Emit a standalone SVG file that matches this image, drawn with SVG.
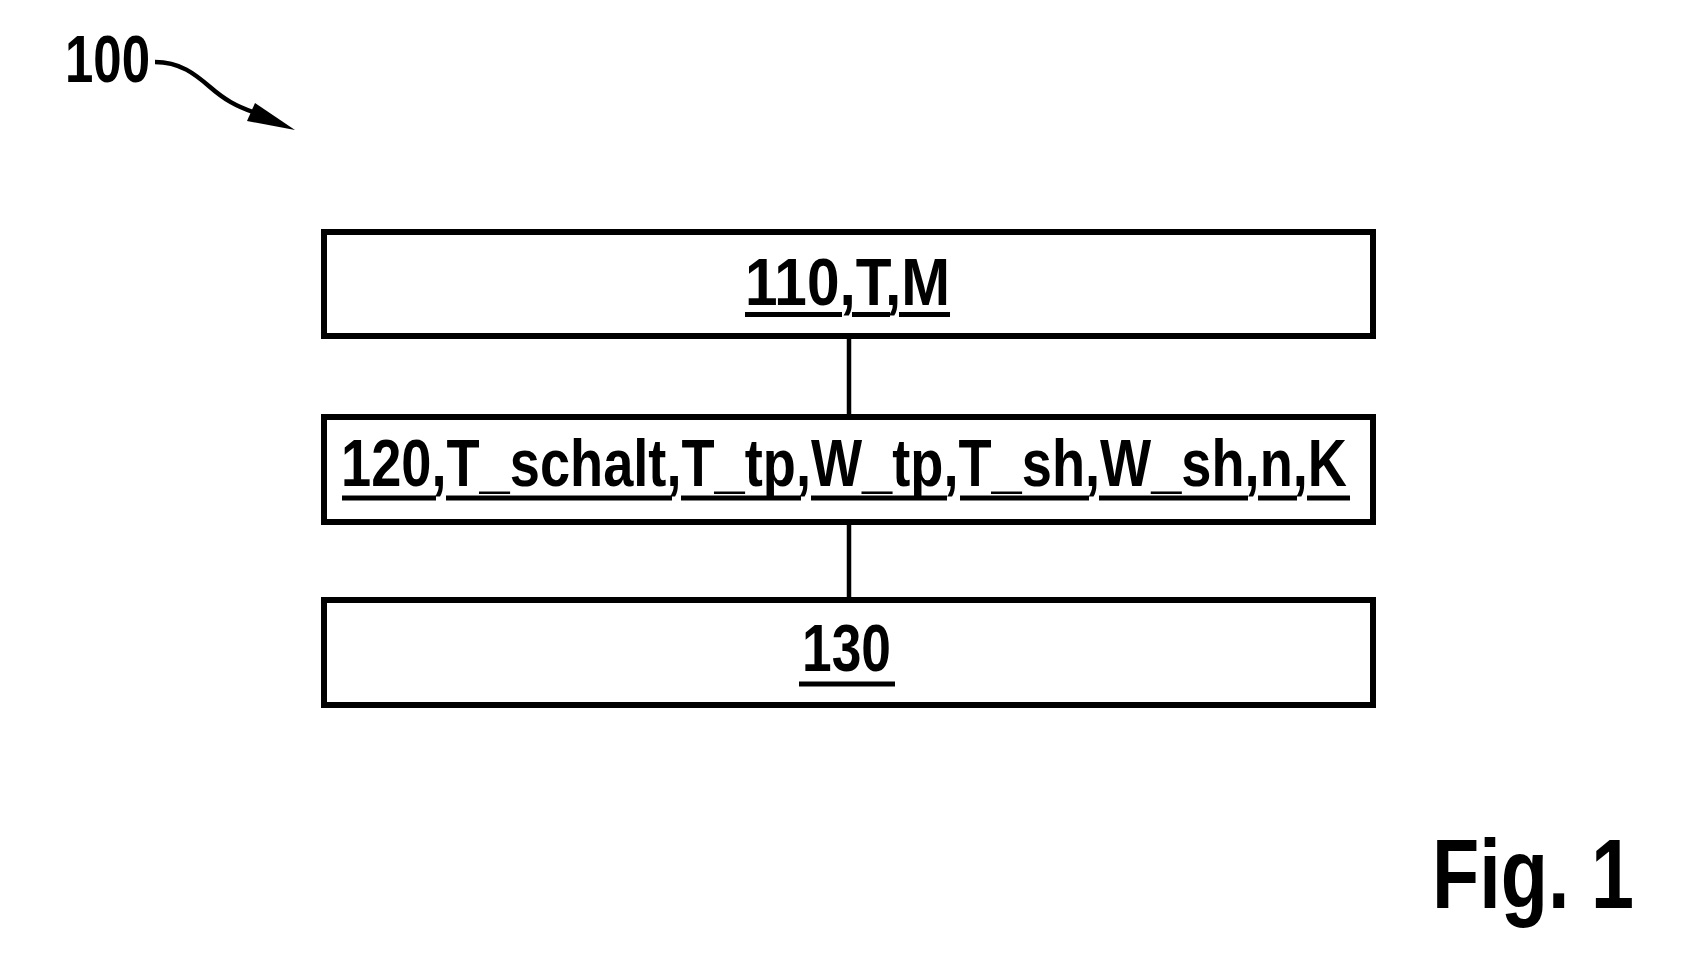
<svg xmlns="http://www.w3.org/2000/svg" width="1702" height="973" viewBox="0 0 1702 973">
<defs>
<style>
.box{fill:#fff;stroke:#000;stroke-width:6}
.lbl{font-family:"Liberation Sans",Arial,sans-serif;font-size:67px;font-weight:bold;fill:#000}
.ul{stroke:#000;stroke-width:5;fill:none}
.conn{stroke:#000;stroke-width:4.5;fill:none}
</style>
</defs>
<rect width="1702" height="973" fill="#fff"/>
<g id="connectors">
<line class="conn" x1="849" y1="339" x2="849" y2="414"/>
<line class="conn" x1="849" y1="525" x2="849" y2="597"/>
</g>
<g id="label100">
<text class="lbl" x="65" y="82" textLength="85" lengthAdjust="spacingAndGlyphs">100</text>
<path d="M155,62 C180,62 195,74 210,87 C225,100 236,106 253,112" fill="none" stroke="#000" stroke-width="4.5"/>
<polygon points="295,130 247,121 255,103" fill="#000"/>
</g>
<g id="node110">
<rect class="box" x="324" y="232" width="1049" height="104"/>
<text class="lbl" x="745" y="305" textLength="205" lengthAdjust="spacingAndGlyphs">110,T,M</text>
<path class="ul" d="M745,314.5H842M852,314.5H890M899,314.5H950"/>
</g>
<g id="node120">
<rect class="box" x="324" y="417" width="1049" height="105"/>
<text class="lbl" x="341" y="486" textLength="1006" lengthAdjust="spacingAndGlyphs">120,T_schalt,T_tp,W_tp,T_sh,W_sh,n,K</text>
<path class="ul" d="M342,498H436M446,498H672M681,498H801M811,498H947M960,498H1089M1099,498H1248M1258,498H1297M1307,498H1350"/>
</g>
<g id="node130">
<rect class="box" x="324" y="600" width="1049" height="105"/>
<text class="lbl" x="802" y="671" textLength="89" lengthAdjust="spacingAndGlyphs">130</text>
<path class="ul" d="M799,684H895"/>
</g>
<g id="figlabel">
<text x="1432" y="908" font-family="Liberation Sans,Arial,sans-serif" font-weight="bold" font-size="98" textLength="202" lengthAdjust="spacingAndGlyphs">Fig. 1</text>
</g>
</svg>
